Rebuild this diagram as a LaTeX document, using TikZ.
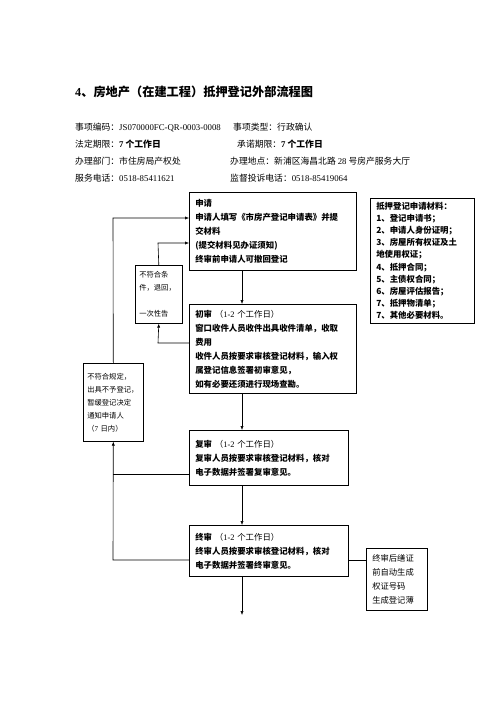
\documentclass[tikz,border=0pt]{standalone}
\usepackage{fontspec}
\setmainfont{Noto Sans CJK SC}
\newfontfamily\tms{Liberation Serif}
\usetikzlibrary{arrows.meta}
\newcommand\latn[1]{{\tms #1}}
\begin{document}
\begin{tikzpicture}[x=1pt,y=-1pt,
  box/.style={draw, line width=0.6pt, anchor=north west, align=left, inner xsep=6pt, inner ysep=2pt,
    font=\fontsize{8.4}{14}\selectfont\bfseries},
  sbox/.style={box, inner xsep=4pt, font=\fontsize{7.3}{13}\selectfont},
  arr/.style={-{Latex[length=4pt,width=3.2pt]}, line width=0.6pt},
  ln/.style={line width=0.6pt},
  info/.style={anchor=base west, inner sep=0, font=\fontsize{8.8}{10}\selectfont},
  ttl/.style={anchor=base west, inner sep=0, font=\fontsize{12.2}{14}\selectfont\bfseries}]
\useasboundingbox (0,0) rectangle (500,708);
\fill[white] (0,0) rectangle (500,708);

\node[ttl] (title) at (75,97) {\latn{\bfseries 4}、房地产（在建工程）抵押登记外部流程图};

\node[info] (i1) at (75,131) {事项编码：\latn{JS070000FC-QR-0003-0008}};
\node[info] (i2) at (233,131) {事项类型：行政确认};
\node[info] (i3) at (75,148) {法定期限：{\bfseries\latn{7} 个工作日}};
\node[info] (i4) at (237,148) {承诺期限：{\bfseries\latn{7} 个工作日}};
\node[info] (i5) at (75,165) {办理部门：市住房局产权处};
\node[info] (i6) at (230,165) {办理地点：新浦区海昌北路 \latn{28} 号房产服务大厅};
\node[info] (i7) at (75,182) {服务电话：\latn{0518-85411621}};
\node[info] (i8) at (230,182) {监督投诉电话：\latn{0518-85419064}};

\node[box, text width=155pt, minimum height=78pt] (apply) at (189,192)
 {申请\\申请人填写《市房产登记申请表》并提\\交材料\\ (提交材料见办证须知)\\终审前申请人可撤回登记};

\node[box, text width=92pt, minimum height=125pt, font=\fontsize{8.4}{12.2}\selectfont\bfseries] (mat) at (370,198)
 {抵押登记申请材料：\\1、登记申请书；\\2、申请人身份证明；\\3、房屋所有权证及土\\地使用权证；\\4、抵押合同；\\5、主债权合同；\\6、房屋评估报告；\\7、抵押物清单；\\7、其他必要材料。};

\node[sbox, text width=39pt, minimum height=58pt] (ret) at (135,265)
 {不符合条\\件，退回，\\[13pt]一次性告};

\node[box, text width=155pt, minimum height=89pt] (first) at (189,304)
 {初审 {\mdseries （\latn{1-2} 个工作日）}\\窗口收件人员收件出具收件清单，收取\\费用\\收件人员按要求审核登记材料，输入权\\属登记信息签署初审意见，\\如有必要还须进行现场查勘。};

\node[sbox, text width=52pt, minimum height=78pt] (rej) at (83,363)
 {不符合规定，\\出具不予登记，\\暂缓登记决定\\通知申请人\\（\latn{7} 日内）};

\node[box, text width=147pt, minimum height=55pt] (second) at (189,430)
 {复审 {\mdseries （\latn{1-2} 个工作日）}\\复审人员按要求审核登记材料，核对\\电子数据并签署复审意见。};

\node[box, text width=147pt, minimum height=51pt] (final) at (189,525)
 {终审 {\mdseries （\latn{1-2} 个工作日）}\\终审人员按要求审核登记材料，核对\\电子数据并签署终审意见。};

\node[sbox, inner xsep=6pt, text width=49pt, minimum height=62pt, font=\fontsize{8.3}{14}\selectfont] (auto) at (366,548)
 {终审后缮证\\前自动生成\\权证号码\\生成登记薄};

% coordinates
\coordinate (mx) at (242,0);
\coordinate (endp) at (242,615);
\coordinate (c1) at (158,343);
\coordinate (c2) at (158,243);
\coordinate (o1) at (113,218);
\coordinate (o2) at (113,474);
\coordinate (o3) at (113,560);

% main flow
\draw[arr] (apply.south -| mx) -- (first.north -| mx);
\draw[arr] (first.south -| mx) -- (second.north -| mx);
\draw[arr] (second.south -| mx) -- (final.north -| mx);
\draw[arr] (final.south -| mx) -- (endp);

% return loop (inner)
\draw[arr] (first.west |- c1) -- (c1) -- (ret.south);
\draw[arr] (ret.north) -- (c2) -- (apply.west |- c2);

% outer loop
\draw[arr] (final.west |- o3) -- (o3) -- (rej.south);
\draw[ln] (second.west |- o2) -- (o2);
\draw[arr] (rej.north) -- (o1) -- (apply.west |- o1);

% to auto box
\draw[ln] (final.east |- o3) -- (auto.west |- o3);
\end{tikzpicture}
\end{document}
